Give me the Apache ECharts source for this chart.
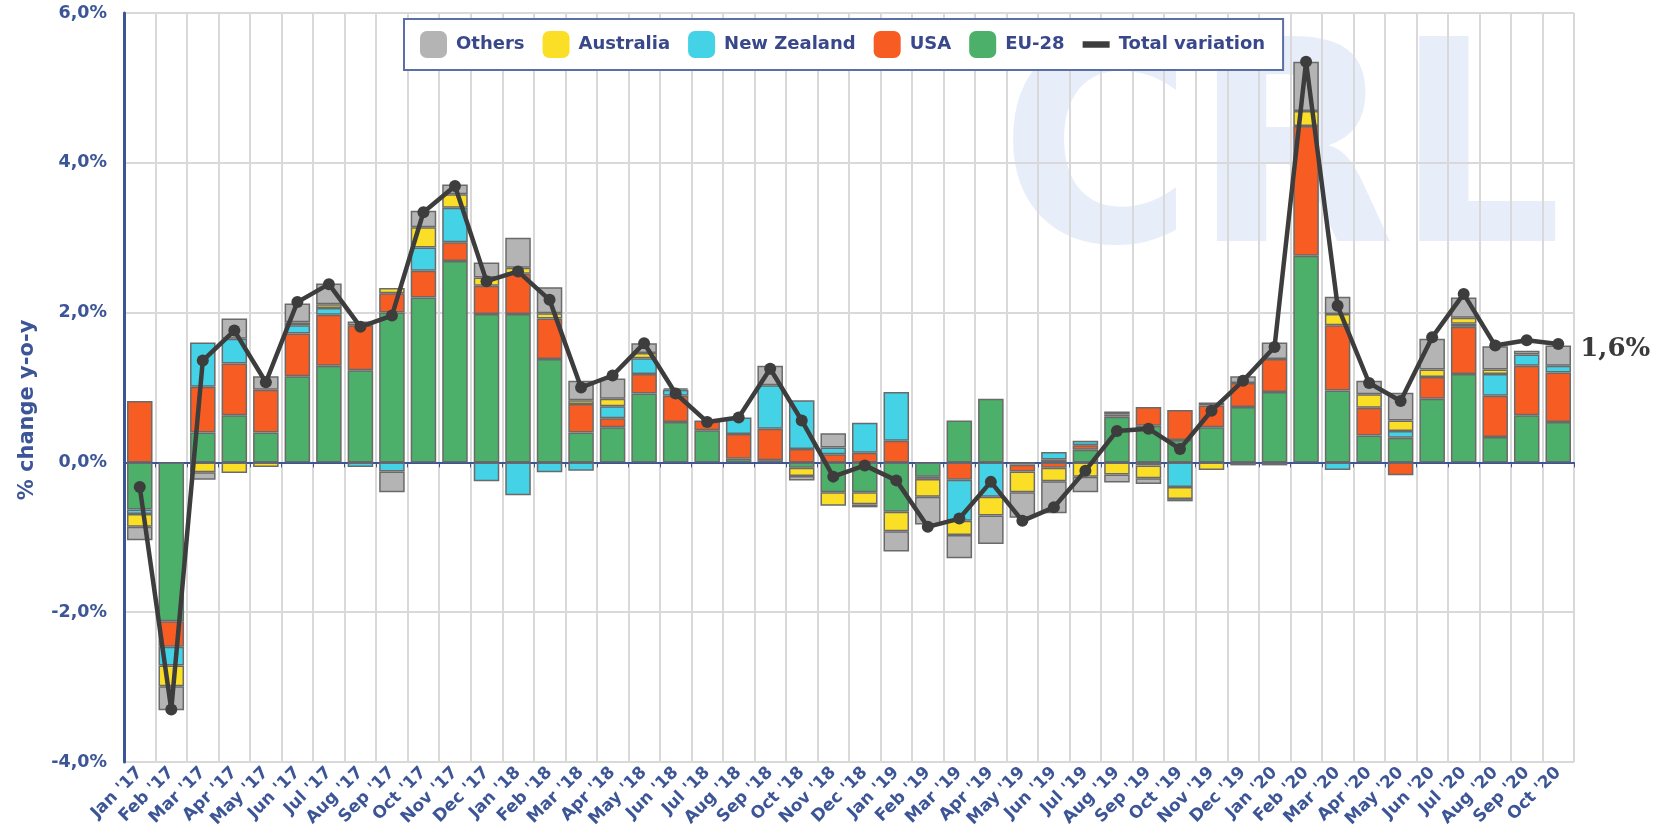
<!DOCTYPE html>
<html>
<head>
<meta charset="utf-8">
<title>Total variation y-o-y</title>
<script src="https://cdn.jsdelivr.net/npm/echarts/dist/echarts.min.js"></script>
<style>
  html, body { margin: 0; padding: 0; background: #fff; }
  #chartBarBox { width: 1659px; height: 835px; }
</style>
</head>
<body>
<div id="chartBarBox"></div>
<script>
// X轴月份
var months = [
  "Jan '17", "Feb '17", "Mar '17", "Apr '17", "May '17", "Jun '17", "Jul '17", "Aug '17", "Sep '17", "Oct '17", "Nov '17", "Dec '17",
  "Jan '18", "Feb '18", "Mar '18", "Apr '18", "May '18", "Jun '18", "Jul '18", "Aug '18", "Sep '18", "Oct '18", "Nov '18", "Dec '18",
  "Jan '19", "Feb '19", "Mar '19", "Apr '19", "May '19", "Jun '19", "Jul '19", "Aug '19", "Sep '19", "Oct '19", "Nov '19", "Dec '19",
  "Jan '20", "Feb '20", "Mar '20", "Apr '20", "May '20", "Jun '20", "Jul '20", "Aug '20", "Sep '20", "Oct '20"
]
// 各来源的贡献 (%)
var euData = [
  -0.63, -2.12, 0.40, 0.63, 0.40, 1.15, 1.29, 1.23, 2.00, 2.20, 2.69, 1.98,
  1.98, 1.38, 0.40, 0.47, 0.92, 0.54, 0.43, 0.05, 0.03, -0.07, -0.40, -0.40,
  -0.66, -0.19, 0.56, 0.85, -0.03, 0.04, 0.17, 0.61, 0.49, 0.30, 0.47, 0.74,
  0.94, 2.76, 0.96, 0.36, 0.33, 0.85, 1.18, 0.34, 0.63, 0.54
]
var usaData = [
  0.82, -0.34, 0.61, 0.69, 0.57, 0.57, 0.68, 0.60, 0.26, 0.36, 0.25, 0.38,
  0.54, 0.54, 0.38, 0.12, 0.26, 0.35, 0.13, 0.33, 0.42, 0.18, 0.11, 0.13,
  0.29, -0.03, -0.23, 0, -0.09, -0.07, 0.06, 0.03, 0.25, 0.40, 0.29, 0.32,
  0.44, 1.73, 0.87, 0.37, -0.17, 0.29, 0.63, 0.55, 0.66, 0.66
]
var nzData = [
  -0.06, -0.25, 0.59, 0.33, 0, 0.11, 0.09, -0.06, -0.12, 0.31, 0.46, -0.25,
  -0.44, -0.13, -0.11, 0.16, 0.21, 0.08, 0, 0.22, 0.58, 0.65, 0.09, 0.40,
  0.65, 0, -0.55, -0.46, 0, 0.10, 0.06, 0.04, -0.04, -0.33, 0, -0.04,
  -0.04, 0, -0.10, 0, 0.09, 0, 0.04, 0.29, 0.15, 0.09
]
var ausData = [
  -0.17, -0.28, -0.13, -0.14, -0.06, 0.04, 0.05, 0, 0.07, 0.27, 0.18, 0.11,
  0.08, 0.07, 0.05, 0.10, 0.07, 0, 0, 0, 0, -0.11, -0.18, -0.16,
  -0.26, -0.24, -0.19, -0.25, -0.28, -0.18, -0.19, -0.16, -0.17, -0.16, -0.10, 0,
  0, 0.20, 0.15, 0.18, 0.14, 0.10, 0.08, 0.06, 0, 0
]
var othersData = [
  -0.18, -0.32, -0.10, 0.27, 0.18, 0.25, 0.28, 0.05, -0.28, 0.22, 0.13, 0.20,
  0.40, 0.35, 0.26, 0.27, 0.13, 0.02, 0, 0, 0.26, -0.06, 0.19, -0.04,
  -0.27, -0.37, -0.31, -0.38, -0.34, -0.43, -0.21, -0.11, -0.08, -0.03, 0.04, 0.09,
  0.22, 0.66, 0.23, 0.18, 0.37, 0.41, 0.27, 0.31, 0.05, 0.27
]
// 合计变化
var totalData = [
  -0.33, -3.30, 1.36, 1.76, 1.07, 2.14, 2.38, 1.81, 1.96, 3.34, 3.69, 2.42,
  2.55, 2.17, 1.00, 1.16, 1.59, 0.92, 0.54, 0.60, 1.25, 0.56, -0.19, -0.04,
  -0.24, -0.86, -0.75, -0.26, -0.78, -0.60, -0.11, 0.42, 0.45, 0.18, 0.69, 1.09,
  1.54, 5.35, 2.09, 1.06, 0.82, 1.67, 2.25, 1.56, 1.63, 1.58
]
// Y轴刻度
var yTicks = { min: -4, max: 6, interval: 2 }

var blue = '#3c5596'
var fontName = 'DejaVu Sans'

function pct (v, digits) {
  return v.toFixed(digits).replace('.', ',') + '%'
}

// 堆叠柱 (靠近0轴的先画)
var stacks = [
  { name: 'EU-28', data: euData, color: '#4caf6a' },
  { name: 'USA', data: usaData, color: '#f75c23' },
  { name: 'New Zealand', data: nzData, color: '#43d2e6' },
  { name: 'Australia', data: ausData, color: '#fbdf27' },
  { name: 'Others', data: othersData, color: '#b4b4b4' }
]
var series = stacks.map(function (s) {
  return {
    name: s.name,
    type: 'bar',
    stack: 'total',
    barCategoryGap: '19%',
    itemStyle: { color: s.color, borderColor: '#6a6a6a', borderWidth: 1.5 },
    data: s.data.map(function (v) { return v === 0 ? '-' : v })
  }
})
series.push({
  name: 'Total variation',
  type: 'line',
  z: 5,
  data: totalData,
  symbol: 'circle',
  symbolSize: 12,
  lineStyle: { color: '#3d3d3d', width: 4.5 },
  itemStyle: { color: '#3d3d3d' },
  endLabel: {
    show: true,
    distance: 22,
    offset: [0, 5],
    color: '#3a3a3a',
    fontFamily: 'DejaVu Serif',
    fontWeight: 'bold',
    fontSize: 26,
    formatter: function (p) { return pct(p.value, 1) }
  }
})

var chartBar = echarts.init(document.getElementById('chartBarBox'))
var options = {
  animation: false,
  backgroundColor: '#fff',
  // 背景水印
  graphic: [{
    type: 'text',
    z: -10,
    x: 1000,
    y: 168,
    scaleX: 0.85,
    scaleY: 0.91,
    style: {
      text: 'CRL',
      fill: 'rgba(180, 200, 235, 0.3)',
      font: 'bold 309px "DejaVu Sans"',
      align: 'left',
      verticalAlign: 'middle'
    }
  }],
  legend: {
    left: 404,
    top: 19,
    padding: [12, 18, 12, 16],
    itemWidth: 27,
    itemHeight: 27,
    itemGap: 18,
    icon: 'roundRect',
    backgroundColor: '#fff',
    borderColor: '#5a6ea8',
    borderWidth: 2,
    itemStyle: { borderWidth: 0 },
    textStyle: { color: '#39488a', fontWeight: 'bold', fontSize: 18, fontFamily: fontName, padding: [0, 0, 0, 4] },
    data: ['Others', 'Australia', 'New Zealand', 'USA', 'EU-28',
      { name: 'Total variation', icon: 'path://M0,0H25V6H0Z' }]
  },
  grid: { left: 124, right: 85, top: 13, bottom: 73 },
  xAxis: {
    type: 'category',
    data: months,
    axisLine: { lineStyle: { color: blue, width: 2 } },
    axisTick: { show: true, length: 5, interval: 0, lineStyle: { color: blue } },
    axisLabel: {
      interval: 0,
      rotate: 45,
      margin: 8,
      color: blue,
      fontWeight: 'bold',
      fontSize: 17,
      fontFamily: fontName
    },
    splitLine: { show: true, interval: 0, lineStyle: { color: '#d9d9d9', width: 2 } }
  },
  yAxis: {
    type: 'value',
    min: yTicks.min,
    max: yTicks.max,
    interval: yTicks.interval,
    name: '% change y-o-y',
    nameLocation: 'middle',
    nameGap: 86,
    nameTextStyle: { color: blue, fontSize: 21, fontWeight: 'bold', fontFamily: fontName, padding: [0, 45, 0, 0] },
    axisLine: { show: true, lineStyle: { color: blue, width: 3 } },
    axisTick: { show: false },
    axisLabel: {
      margin: 17,
      color: blue,
      fontWeight: 'bold',
      fontSize: 17.5,
      fontFamily: fontName,
      formatter: function (v) { return pct(v, 1) }
    },
    splitLine: { lineStyle: { color: '#d9d9d9', width: 2 } }
  },
  series: series
}
chartBar.setOption(options, true)
</script>
</body>
</html>
